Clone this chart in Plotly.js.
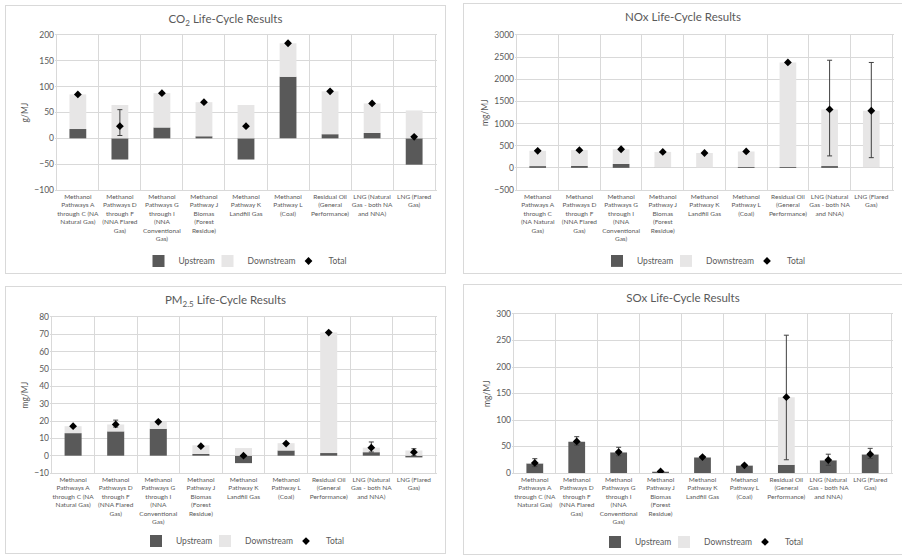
<!DOCTYPE html>
<html>
<head>
<meta charset="utf-8">
<script src="https://cdn.plot.ly/plotly-3.0.1.min.js"></script>
<style>
  html, body { margin: 0; padding: 0; background: #ffffff; width: 902px; height: 555px; overflow: hidden; }
  .panel { position: absolute; border: 1px solid #d9d9d9; background: #fff; }
</style>
</head>
<body>
<div id="p1" class="panel" style="left:5px;top:5px;width:439px;height:267px;"></div>
<div id="p2" class="panel" style="left:463px;top:3px;width:438px;height:269px;"></div>
<div id="p3" class="panel" style="left:5px;top:286px;width:439px;height:266px;"></div>
<div id="p4" class="panel" style="left:463px;top:284px;width:438px;height:269px;"></div>
<script>
// ---------- categories / tick labels ----------
const categories = [
  "Methanol Pathways A through C (NA Natural Gas)",
  "Methanol Pathways D through F (NNA Flared Gas)",
  "Methanol Pathways G through I (NNA Conventional Gas)",
  "Methanol Pathway J Biomas (Forest Residue)",
  "Methanol Pathway K Landfill Gas",
  "Methanol Pathway L (Coal)",
  "Residual Oil (General Performance)",
  "LNG (Natural Gas - both NA and NNA)",
  "LNG (Flared Gas)"
];
const tickLabelsA = [
  "Methanol<br>Pathways A<br>through C (NA<br>Natural Gas)",
  "Methanol<br>Pathways D<br>through F<br>(NNA Flared<br>Gas)",
  "Methanol<br>Pathways G<br>through I<br>(NNA<br>Conventional<br>Gas)",
  "Methanol<br>Pathway J<br>Biomas<br>(Forest<br>Residue)",
  "Methanol<br>Pathway K<br>Landfill Gas",
  "Methanol<br>Pathway L<br>(Coal)",
  "Residual Oil<br>(General<br>Performance)",
  "LNG (Natural<br>Gas - both NA<br>and NNA)",
  "LNG (Flared<br>Gas)"
];
const tickLabelsB = [
  "Methanol<br>Pathways A<br>through C<br>(NA Natural<br>Gas)",
  "Methanol<br>Pathways D<br>through F<br>(NNA Flared<br>Gas)",
  "Methanol<br>Pathways G<br>through I<br>(NNA<br>Conventional<br>Gas)",
  "Methanol<br>Pathway J<br>Biomas<br>(Forest<br>Residue)",
  "Methanol<br>Pathway K<br>Landfill Gas",
  "Methanol<br>Pathway L<br>(Coal)",
  "Residual Oil<br>(General<br>Performance)",
  "LNG (Natural<br>Gas - both NA<br>and NNA)",
  "LNG (Flared<br>Gas)"
];

// ---------- CO2 (g/MJ) ----------
const co2Upstream   = [18, -41, 21, 4, -41, 119, 8, 10.5, -51];
const co2Downstream = [67, 64.5, 66.5, 66, 64.5, 65, 83, 57, 54];
const co2Total      = [85, 23.5, 87.5, 70, 23.5, 184, 91, 67.5, 3];
const co2ErrPlus    = [null, 32, null, null, null, null, null, null, null];
const co2ErrMinus   = [null, 18, null, null, null, null, null, null, null];

// ---------- NOx (mg/MJ) ----------
const noxUpstream   = [40, 45, 90, 5, 3, 20, 20, 40, 5];
const noxDownstream = [345, 355, 330, 355, 332, 350, 2360, 1280, 1285];
const noxTotal      = [385, 400, 420, 360, 335, 370, 2380, 1320, 1290];
const noxErrPlus    = [null, null, null, null, null, null, null, 1110, 1090];
const noxErrMinus   = [null, null, null, null, null, null, null, 1050, 1060];

// ---------- PM2.5 (mg/MJ) ----------
const pmUpstream    = [13, 14, 15.5, 1, -4.3, 3, 1.5, 2, -1];
const pmDownstream  = [4, 4, 4, 5, 4.4, 4.2, 69.5, 2.6, 3];
const pmTotal       = [17, 18, 19.5, 5.5, 0, 7, 71, 4.6, 2];
const pmErrPlus     = [null, 2.5, null, null, null, null, null, 3.3, 2];
const pmErrMinus    = [null, 1.5, null, null, null, null, null, 2.5, 2];

// ---------- SOx (mg/MJ) ----------
const soxUpstream   = [18, 59, 39, 2.5, 29.5, 14, 15.5, 24, 35];
const soxDownstream = [1, 0.5, 0.5, 0.5, 0.5, 0.5, 127.5, 0.5, 0.5];
const soxTotal      = [19, 59.5, 39.5, 3, 30, 14.5, 143, 24.5, 35.5];
const soxErrPlus    = [8, 9, 9, null, null, null, 117, 11, 11];
const soxErrMinus   = [7, 7, 7, null, null, null, 118, 10, 8];

// ---------- styling ----------
const FONT = 'Lato, "Open Sans", "DejaVu Sans", sans-serif';
const TXT = '#595959';
const GRID = '#d9d9d9';
const UP_COLOR = '#595959';
const DOWN_COLOR = '#e7e6e6';

function makePanel(id, cfg) {
  const el = document.getElementById(id);
  const W = el.clientWidth, H = el.clientHeight;
  const traces = [
    { type: 'bar', name: 'Upstream', x: categories, y: cfg.up, legendwidth: 24,
      marker: { color: UP_COLOR }, hoverinfo: 'skip' },
    { type: 'bar', name: 'Downstream', x: categories, y: cfg.down, legendwidth: 36,
      marker: { color: DOWN_COLOR }, hoverinfo: 'skip' },
    { type: 'scatter', mode: 'markers', name: 'Total', x: categories, y: cfg.total, legendwidth: 20,
      marker: { symbol: 'diamond', size: 6, color: '#000000' },
      error_y: { type: 'data', symmetric: false, array: cfg.errPlus, arrayminus: cfg.errMinus,
                 color: '#404040', thickness: 1, width: 2.5 },
      hoverinfo: 'skip' }
  ];
  const layout = {
    width: W, height: H,
    margin: cfg.margin,
    paper_bgcolor: '#ffffff', plot_bgcolor: '#ffffff',
    font: { family: FONT, color: TXT, size: 8 },
    barmode: 'relative', bargap: 0.6,
    showlegend: true,
    title: { text: cfg.title, font: { family: FONT, size: 11.5, color: TXT },
             x: 0.5, xanchor: 'center', yref: 'container', y: cfg.titleY, yanchor: 'middle' },
    legend: { orientation: 'h', x: 0.5, xanchor: 'center', yref: 'container', y: cfg.legendY,
              yanchor: 'middle', font: { family: FONT, size: 8.5, color: TXT },
              traceorder: 'normal', itemwidth: 30, tracegroupgap: 0 },
    xaxis: { type: 'category', tickmode: 'array', tickvals: categories, ticktext: cfg.labels,
             tickson: 'boundaries', ticks: '', showgrid: true, gridcolor: GRID, gridwidth: 1,
             showline: true, linecolor: GRID, mirror: true,
             tickfont: { family: FONT, size: 6.5, color: TXT }, tickangle: 0, automargin: false,
             fixedrange: true },
    yaxis: { range: cfg.yrange, dtick: cfg.dtick, tick0: 0, showgrid: true, gridcolor: GRID,
             zeroline: true, zerolinecolor: GRID, zerolinewidth: 1, ticks: '',
             showline: false, tickfont: { family: FONT, size: 8.5, color: TXT },
             title: { text: cfg.ytitle, font: { family: FONT, size: 8.5, color: TXT }, standoff: 4 },
             automargin: false, fixedrange: true }
  };
  Plotly.newPlot(el, traces, layout, { staticPlot: true, displayModeBar: false });
}

makePanel('p1', {
  title: 'CO<sub>2</sub> Life-Cycle Results', ytitle: 'g/MJ',
  up: co2Upstream, down: co2Downstream, total: co2Total, errPlus: co2ErrPlus, errMinus: co2ErrMinus,
  labels: tickLabelsA, yrange: [-100, 200], dtick: 50,
  margin: { l: 49, r: 8, t: 29, b: 83 }, titleY: 0.95, legendY: 0.045
});
makePanel('p2', {
  title: 'NOx Life-Cycle Results', ytitle: 'mg/MJ',
  up: noxUpstream, down: noxDownstream, total: noxTotal, errPlus: noxErrPlus, errMinus: noxErrMinus,
  labels: tickLabelsB, yrange: [-500, 3000], dtick: 500,
  margin: { l: 51, r: 8, t: 31, b: 83 }, titleY: 0.95, legendY: 0.045
});
makePanel('p3', {
  title: 'PM<sub>2.5</sub> Life-Cycle Results', ytitle: 'mg/MJ',
  up: pmUpstream, down: pmDownstream, total: pmTotal, errPlus: pmErrPlus, errMinus: pmErrMinus,
  labels: tickLabelsA, yrange: [-10, 80], dtick: 10,
  margin: { l: 44, r: 8, t: 30, b: 80 }, titleY: 0.95, legendY: 0.045
});
makePanel('p4', {
  title: 'SOx Life-Cycle Results', ytitle: 'mg/MJ',
  up: soxUpstream, down: soxDownstream, total: soxTotal, errPlus: soxErrPlus, errMinus: soxErrMinus,
  labels: tickLabelsA, yrange: [0, 300], dtick: 50,
  margin: { l: 48, r: 9, t: 29, b: 81 }, titleY: 0.95, legendY: 0.045
});
</script>
</body>
</html>
